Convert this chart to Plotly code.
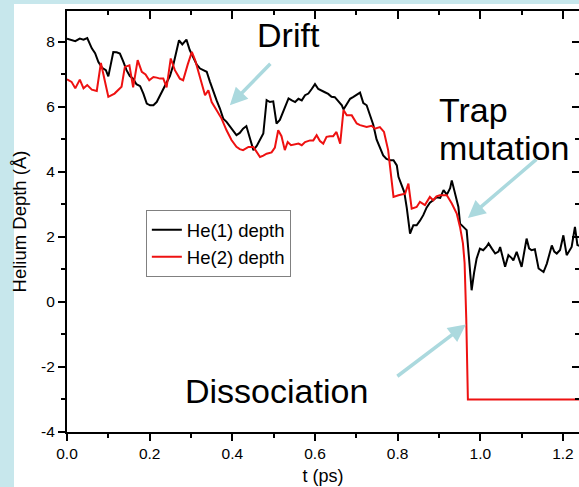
import plotly.graph_objects as go

# ---- data ----
t_he1 = [0.0, 0.011, 0.020, 0.031, 0.040, 0.049, 0.060, 0.068, 0.076, 0.085, 0.094, 0.100, 0.112, 0.120, 0.128,
         0.136, 0.144, 0.152, 0.160, 0.168, 0.177, 0.185, 0.193, 0.201, 0.209, 0.217, 0.225, 0.233, 0.241,
         0.249, 0.257, 0.264, 0.271, 0.279, 0.289, 0.297, 0.306, 0.314, 0.322, 0.330, 0.338, 0.346, 0.354,
         0.362, 0.370, 0.378, 0.386, 0.394, 0.402, 0.410, 0.418, 0.426, 0.434, 0.443, 0.451, 0.459, 0.467,
         0.475, 0.483, 0.491, 0.499, 0.507, 0.515, 0.521, 0.527, 0.536, 0.544, 0.552, 0.560, 0.568, 0.576,
         0.584, 0.592, 0.600, 0.608, 0.616, 0.624, 0.632, 0.640, 0.648, 0.657, 0.665, 0.669, 0.677, 0.685,
         0.693, 0.701, 0.709, 0.717, 0.725, 0.733, 0.741, 0.749, 0.757, 0.765, 0.773, 0.782, 0.790, 0.798,
         0.802, 0.810, 0.816, 0.822, 0.830, 0.838, 0.846, 0.854, 0.862, 0.870, 0.878, 0.886, 0.894, 0.903,
         0.911, 0.919, 0.927, 0.931, 0.939, 0.947, 0.951, 0.959, 0.967, 0.973, 0.979, 0.985, 0.991, 0.999,
         1.007, 1.015, 1.020, 1.028, 1.036, 1.044, 1.048, 1.060, 1.068, 1.076, 1.080, 1.088, 1.100, 1.112,
         1.118, 1.124, 1.132, 1.141, 1.153, 1.161, 1.167, 1.173, 1.179, 1.185, 1.193, 1.201, 1.209, 1.215,
         1.221, 1.229, 1.235, 1.245]
he1_depth = [8.10, 8.05, 8.02, 8.10, 8.07, 8.12, 7.80, 7.65, 7.38, 7.20, 7.13, 6.94, 7.69, 7.68, 7.64,
             7.40, 7.13, 6.95, 6.87, 6.70, 6.64, 6.40, 6.10, 6.05, 6.05, 6.15, 6.36, 6.55, 6.77,
             6.95, 7.28, 7.65, 8.05, 7.92, 8.07, 7.75, 7.49, 7.30, 7.18, 7.13, 7.08, 6.77, 6.46,
             6.20, 5.95, 5.64, 5.54, 5.40, 5.28, 5.13, 5.20, 5.33, 5.41, 5.05, 4.67, 4.80, 4.97,
             5.18, 6.21, 6.15, 6.17, 5.49, 5.60, 5.80, 5.95, 6.26, 6.20, 6.15, 6.25, 6.20, 6.36,
             6.41, 6.55, 6.70, 6.55, 6.51, 6.45, 6.40, 6.31, 6.30, 6.18, 6.05, 5.92, 6.10, 6.25,
             6.31, 6.38, 6.44, 6.12, 6.05, 5.75, 5.45, 5.00, 4.75, 4.51, 4.40, 4.36, 4.36, 4.20,
             3.85, 3.55, 3.38, 2.90, 2.10, 2.36, 2.36, 2.50, 2.67, 2.90, 3.05, 3.13, 3.22, 3.20,
             3.44, 3.30, 3.50, 3.74, 3.34, 2.92, 2.41, 2.30, 2.21, 1.30, 0.36, 0.90, 1.33, 1.64,
             1.59, 1.70, 1.80, 1.64, 1.49, 1.55, 1.69, 1.08, 1.44, 1.35, 1.28, 1.54, 1.08, 1.95,
             1.65, 1.59, 1.62, 1.03, 0.92, 1.18, 1.45, 1.74, 1.55, 1.49, 1.60, 2.05, 1.44, 1.55,
             1.69, 2.31, 1.75, 1.70]

t_he2 = [0.0, 0.011, 0.020, 0.031, 0.040, 0.049, 0.060, 0.072, 0.082, 0.090, 0.100, 0.115, 0.132, 0.140,
         0.151, 0.160, 0.171, 0.181, 0.190, 0.199, 0.209, 0.217, 0.225, 0.233, 0.241, 0.251, 0.261, 0.273,
         0.281, 0.292, 0.302, 0.310, 0.322, 0.334, 0.342, 0.350, 0.362, 0.374, 0.386, 0.398, 0.410, 0.418,
         0.426, 0.439, 0.451, 0.459, 0.467, 0.475, 0.483, 0.495, 0.503, 0.511, 0.519, 0.527, 0.534, 0.542,
         0.552, 0.560, 0.568, 0.576, 0.588, 0.596, 0.604, 0.612, 0.620, 0.628, 0.636, 0.644, 0.652, 0.661,
         0.669, 0.677, 0.689, 0.701, 0.709, 0.717, 0.725, 0.737, 0.745, 0.757, 0.767, 0.777, 0.790, 0.802,
         0.810, 0.818, 0.826, 0.834, 0.846, 0.854, 0.866, 0.878, 0.886, 0.894, 0.902, 0.911, 0.919, 0.931,
         0.943, 0.951, 0.958, 0.962, 0.966, 0.970, 1.245]
he2_depth = [6.85, 6.77, 6.57, 6.84, 6.57, 6.67, 6.53, 6.49, 7.35, 6.92, 6.31, 6.41, 6.62, 7.23,
             7.28, 6.60, 7.44, 7.08, 7.00, 6.82, 6.92, 6.90, 6.87, 6.87, 6.60, 7.49, 7.13, 6.87,
             6.82, 7.30, 7.69, 7.44, 6.87, 6.36, 6.51, 6.15, 5.90, 5.64, 5.28, 4.98, 4.77, 4.70,
             4.67, 4.77, 4.77, 4.60, 4.46, 4.50, 4.56, 4.60, 4.75, 5.28, 5.10, 4.67, 4.92, 4.82,
             4.85, 4.87, 4.82, 4.92, 4.97, 4.97, 5.13, 4.95, 4.87, 5.08, 5.10, 5.10, 5.23, 4.87,
             5.90, 5.74, 5.74, 5.49, 5.44, 5.42, 5.38, 5.42, 5.33, 5.38, 5.23, 4.67, 3.23, 3.28,
             3.30, 3.33, 3.64, 2.87, 2.92, 3.08, 2.98, 3.23, 3.13, 3.25, 3.28, 3.28, 3.28, 3.03,
             2.72, 2.30, 1.80, 1.20, -0.50, -3.00, -3.00]

x_tickvals = [0.0, 0.2, 0.4, 0.6, 0.8, 1.0, 1.2]
x_ticktext = ["0.0", "0.2", "0.4", "0.6", "0.8", "1.0", "1.2"]
y_tickvals = [-4, -2, 0, 2, 4, 6, 8]
y_ticktext = ["-4", "-2", "0", "2", "4", "6", "8"]

FONT = "Arial, 'Liberation Sans', sans-serif"
ARROW = "#abd9de"
X_RANGE = [0, 1.2388]
Y_RANGE = [-4, 8.95]

fig = go.Figure()
fig.add_trace(go.Scatter(x=t_he1, y=he1_depth, mode="lines", name="He(1) depth",
                         line=dict(color="#000000", width=2)))
fig.add_trace(go.Scatter(x=t_he2, y=he2_depth, mode="lines", name="He(2) depth",
                         line=dict(color="#ee1111", width=2)))
# empty trace to host the mirrored (top / right) axes
fig.add_trace(go.Scatter(x=[], y=[], xaxis="x2", yaxis="y2", showlegend=False, hoverinfo="skip"))

fig.update_layout(
    width=579, height=487,
    margin=dict(l=67, r=0, t=11, b=55),
    paper_bgcolor="white", plot_bgcolor="white",
    font=dict(family=FONT, color="black"),
    showlegend=True,
    legend=dict(x=0.154, y=0.527, xanchor="left", yanchor="top",
                bgcolor="white", bordercolor="#808080", borderwidth=1,
                font=dict(size=18.5, family=FONT), tracegroupgap=0, itemwidth=30),
    xaxis=dict(range=X_RANGE, tickmode="array", tickvals=x_tickvals, ticktext=x_ticktext,
               ticks="outside", ticklen=7, tickwidth=1.5, tickcolor="black",
               showline=True, linecolor="black", linewidth=1.5, showgrid=False, zeroline=False,
               tickfont=dict(size=15.5, family=FONT),
               minor=dict(ticks="outside", ticklen=4, tickwidth=1.5, tickcolor="black",
                          tick0=0, dtick=0.1, showgrid=False),
               title=dict(text="t (ps)", font=dict(size=18, family=FONT), standoff=8)),
    yaxis=dict(range=Y_RANGE, tickmode="array", tickvals=y_tickvals, ticktext=y_ticktext,
               ticks="outside", ticklen=7, tickwidth=1.5, tickcolor="black",
               showline=True, linecolor="black", linewidth=2, showgrid=False, zeroline=False,
               tickfont=dict(size=15.5, family=FONT),
               minor=dict(ticks="outside", ticklen=4, tickwidth=1.5, tickcolor="black",
                          tick0=0, dtick=1, showgrid=False),
               title=dict(text="Helium Depth (Å)", font=dict(size=18.5, family=FONT), standoff=10)),
    xaxis2=dict(overlaying="x", matches="x", side="top", anchor="y", range=X_RANGE,
                tickmode="array", tickvals=x_tickvals, showticklabels=False,
                ticks="inside", ticklen=8, tickwidth=1.5, tickcolor="black",
                showline=True, linecolor="black", linewidth=1.5, showgrid=False, zeroline=False,
                minor=dict(ticks="inside", ticklen=4, tickwidth=1.5, tickcolor="black",
                           tick0=0, dtick=0.1, showgrid=False)),
    yaxis2=dict(overlaying="y", matches="y", side="right", anchor="x", range=Y_RANGE,
                tickmode="array", tickvals=y_tickvals, showticklabels=False,
                ticks="inside", ticklen=7, tickwidth=1.5, tickcolor="black",
                showline=False, showgrid=False, zeroline=False,
                minor=dict(ticks="inside", ticklen=4, tickwidth=1.5, tickcolor="black",
                           tick0=0, dtick=1, showgrid=False)),
)

# light blue frame strips (left and top)
fig.add_shape(type="rect", xref="paper", yref="paper", x0=-0.2, x1=(14 - 67) / 512,
              y0=-0.2, y1=1.1, fillcolor="#c7e7ec", line=dict(width=0), layer="above")
fig.add_shape(type="rect", xref="paper", yref="paper", x0=-0.2, x1=1.1,
              y0=1 + 7 / 421, y1=1.1, fillcolor="#c7e7ec", line=dict(width=0), layer="above")

# text labels
labels = [("Drift", 0.455, 8.21), ("Trap", 0.895, 5.90), ("mutation", 0.895, 4.73),
          ("Dissociation", 0.281, -2.75)]
for txt, tx, ty in labels:
    fig.add_annotation(x=tx, y=ty, xref="x", yref="y", text=txt, showarrow=False,
                       xanchor="left", yanchor="middle", font=dict(size=34, family=FONT, color="black"))

# arrows (tip in data coords, tail offset in pixels)
arrows = [(0.394, 6.05, 42, -43), (0.970, 2.58, 70, -60), (0.965, -0.69, -70, 53)]
for ax_t, ay_v, dx, dy in arrows:
    fig.add_annotation(x=ax_t, y=ay_v, xref="x", yref="y", text="", showarrow=True,
                       ax=dx, ay=dy, axref="pixel", ayref="pixel",
                       arrowhead=2, arrowsize=1.0, arrowwidth=3.5, arrowcolor=ARROW, standoff=0)

fig.write_html("out.html")
